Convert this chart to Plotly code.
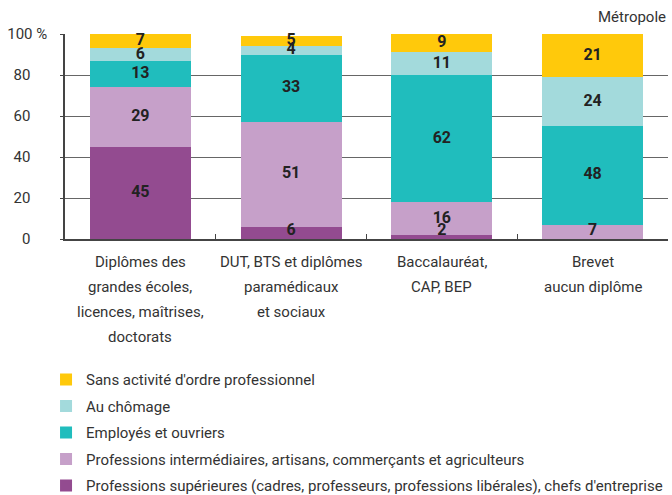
import plotly.graph_objects as go

# categories (diploma level); line breaks as in the source
categories = [
    "Diplômes des<br>grandes écoles,<br>licences, maîtrises,<br>doctorats",
    "DUT, BTS et diplômes<br>paramédicaux<br>et sociaux",
    "Baccalauréat,<br>CAP, BEP",
    "Brevet<br>aucun diplôme",
]

# shares in %, stacked bottom to top
prof_sup = [45, 6, 2, 0]
prof_inter = [29, 51, 16, 7]
employes = [13, 33, 62, 48]
chomage = [6, 4, 11, 24]
sans_activite = [7, 5, 9, 21]

series = [
    ("Professions supérieures (cadres, professeurs, professions libérales), chefs d'entreprise", prof_sup, "#934b90"),
    ("Professions intermédiaires, artisans, commerçants et agriculteurs", prof_inter, "#c6a0c9"),
    ("Employés et ouvriers", employes, "#20bdbd"),
    ("Au chômage", chomage, "#a3dadc"),
    ("Sans activité d'ordre professionnel", sans_activite, "#ffc90b"),
]

y_ticks = [0, 20, 40, 60, 80, 100]
y_ticktext = ["0\u2007\u2007", "20\u2007\u2007", "40\u2007\u2007", "60\u2007\u2007", "80\u2007\u2007", "100 %"]

FONT = "Roboto, Arial, sans-serif"
TEXT = "#333333"

fig = go.Figure()
for i, (name, vals, color) in enumerate(series):
    fig.add_trace(go.Bar(
        x=categories,
        y=vals,
        name=name,
        marker=dict(color=color, line=dict(width=0)),
        legendgroup=str(i),
        legendrank=len(series) - i,  # top of the stack first in the legend
        width=0.67,
        hoverinfo="y+name",
    ))

# value labels on top of all bars (small segments pushed just above the axis)
lab_x, lab_y, lab_t = [], [], []
base = [0] * len(categories)
for name, vals, color in series:
    for j, v in enumerate(vals):
        if v:
            lab_x.append(categories[j])
            lab_y.append(max(base[j] + v / 2, 4))
            lab_t.append(str(v))
        base[j] += v

fig.add_trace(go.Scatter(
    x=lab_x, y=lab_y, text=lab_t,
    mode="text",
    textposition="middle center",
    textfont=dict(family=FONT, size=16, color="#222222", weight="bold"),
    showlegend=False,
    hoverinfo="skip",
    cliponaxis=False,
))

fig.update_layout(
    barmode="stack",
    width=672,
    height=495,
    margin=dict(l=65, r=4, t=34, b=256, autoexpand=False),
    plot_bgcolor="white",
    paper_bgcolor="white",
    font=dict(family=FONT, size=15, color=TEXT),
    showlegend=True,
    legend=dict(
        orientation="v",
        traceorder="grouped",
        xref="container",
        yref="container",
        x=0.0685,
        xanchor="left",
        y=0.266,
        yanchor="top",
        font=dict(size=15, color=TEXT),
        tracegroupgap=4,
        itemclick=False,
    ),
)

fig.update_xaxes(
    type="category",
    automargin=False,
    showgrid=False,
    showline=True,
    linecolor="#444444",
    linewidth=1.5,
    ticks="inside",
    tickson="boundaries",
    ticklen=5,
    tickcolor="#444444",
    showticklabels=False,
)

fig.update_yaxes(
    automargin=False,
    range=[0, 100],
    tickvals=y_ticks,
    ticktext=y_ticktext,
    showgrid=True,
    gridcolor="#666666",
    gridwidth=1,
    showline=True,
    linecolor="#444444",
    linewidth=1.5,
    ticks="outside",
    ticklen=3,
    tickcolor="#444444",
    ticklabelstandoff=10,
    zeroline=False,
    tickfont=dict(size=15, color=TEXT),
)

# category labels, one line each so the line spacing matches the source
for cat in categories:
    for k, line in enumerate(cat.split("<br>")):
        fig.add_annotation(
            text=line,
            xref="x", yref="paper",
            x=cat, y=0,
            yanchor="middle",
            yshift=-(23 + 25 * k),
            showarrow=False,
            font=dict(size=15, color=TEXT),
        )

fig.add_annotation(
    text="Métropole",
    xref="paper", yref="paper",
    x=1, y=1,
    xanchor="right", yanchor="bottom",
    yshift=6,
    showarrow=False,
    font=dict(size=15, color=TEXT),
)

# drop the default page margin so the figure sits at the window's corner
fig.write_html(
    "out.html",
    config={"displayModeBar": False},
    post_script="document.body.style.margin = '0';",
)
